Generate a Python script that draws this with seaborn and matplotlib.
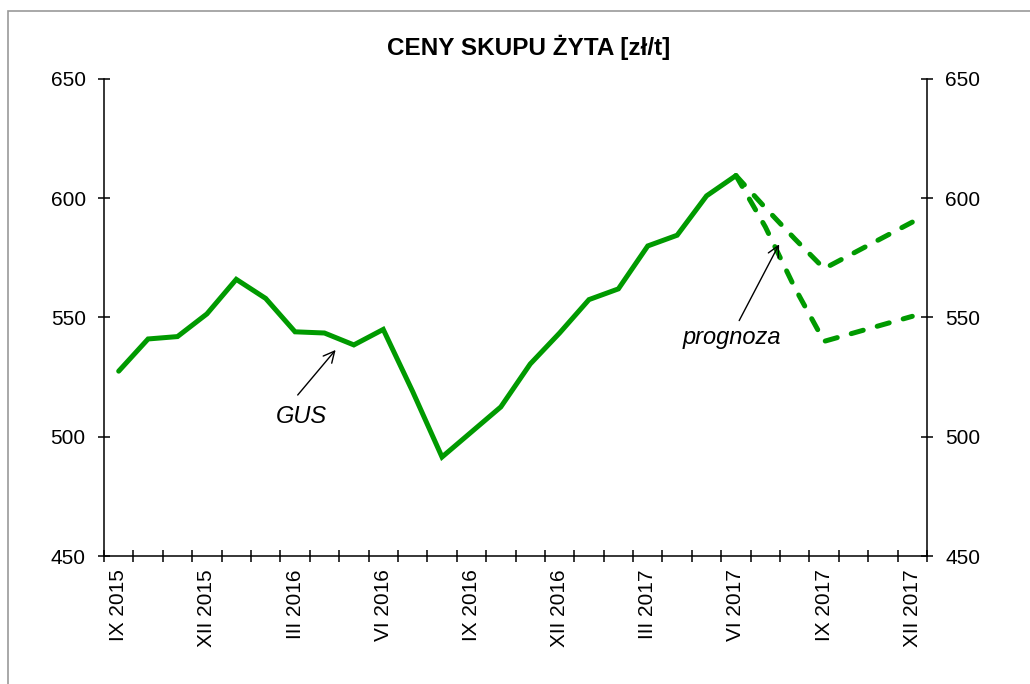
import numpy as np
import pandas as pd
import seaborn as sns
import matplotlib.pyplot as plt
from matplotlib.patches import Rectangle

# month labels (IX 2015 .. XII 2017) and values
months = ['IX 2015', 'X 2015', 'XI 2015', 'XII 2015',
          'I 2016', 'II 2016', 'III 2016', 'IV 2016', 'V 2016', 'VI 2016',
          'VII 2016', 'VIII 2016', 'IX 2016', 'X 2016', 'XI 2016', 'XII 2016',
          'I 2017', 'II 2017', 'III 2017', 'IV 2017', 'V 2017', 'VI 2017',
          'VII 2017', 'VIII 2017', 'IX 2017', 'X 2017', 'XI 2017', 'XII 2017']
gus = [527.5, 541, 542, 551.5, 566, 558, 544, 543.5, 538.5, 545,
       519, 491.5, 502, 512.5, 530.5, 543.5, 557.5, 562, 580, 584.5, 601, 609.5]
prognoza_high = [609.5, 596, 583, 570.5, 577, 583.5, 590]
prognoza_low = [609.5, 588, 562.5, 540, 543.5, 547, 550.5]
labelled = ['IX 2015', 'XII 2015', 'III 2016', 'VI 2016', 'IX 2016', 'XII 2016',
            'III 2017', 'VI 2017', 'IX 2017', 'XII 2017']

sns.set_theme(style='white')
plt.rcParams['font.family'] = ['Liberation Sans', 'DejaVu Sans']
plt.rcParams['text.color'] = 'black'
plt.rcParams['xtick.color'] = 'black'
plt.rcParams['ytick.color'] = 'black'
plt.rcParams['axes.labelcolor'] = 'black'

n_gus = len(gus)
df_gus = pd.DataFrame({'m': np.arange(n_gus), 'v': gus})
idx_f = np.arange(n_gus - 1, len(months))
df_hi = pd.DataFrame({'m': idx_f, 'v': prognoza_high})
df_lo = pd.DataFrame({'m': idx_f, 'v': prognoza_low})

fig = plt.figure(figsize=(10.3, 6.84), dpi=100)
ax = fig.add_axes([104/1030, 1-556/684, 823/1030, 477/684])

green = '#009a00'
sns.lineplot(data=df_gus, x='m', y='v', ax=ax, color=green, lw=3.6,
             solid_joinstyle='miter')
dash = (0, (2.5, 2.9))
sns.lineplot(data=df_hi, x='m', y='v', ax=ax, color=green, lw=3.6,
             linestyle=dash, dash_capstyle='round')
sns.lineplot(data=df_lo, x='m', y='v', ax=ax, color=green, lw=3.6,
             linestyle=dash, dash_capstyle='round')

ax.set_xlim(-0.5, len(months) - 0.5)
ax.set_ylim(450, 650)
ax.set_yticks([450, 500, 550, 600, 650])
ax.set_xlabel('')
ax.set_ylabel('')

# boundary ticks (no labels) and labels centred on months
ax.set_xticks(np.arange(-0.5, len(months), 1))
ax.set_xticklabels([])
pos = [months.index(m) for m in labelled]
ax.set_xticks(pos, minor=True)
ax.set_xticklabels(labelled, minor=True, rotation=90, fontsize=15)
ax.tick_params(axis='x', which='major', direction='inout', length=8.4,
               width=1.1, color='black', bottom=True)
ax.tick_params(axis='x', which='minor', length=0, pad=9.5, bottom=True)
ax.tick_params(axis='y', direction='inout', length=8.4, width=1.1, color='black',
               left=True, right=True, labelleft=True, labelright=True,
               labelsize=15, pad=9)

for s in ['left', 'right', 'bottom']:
    ax.spines[s].set_visible(True)
    ax.spines[s].set_color('black')
    ax.spines[s].set_linewidth(1.1)
ax.spines['top'].set_visible(False)
ax.grid(False)

arrow = dict(arrowstyle='->', color='black', lw=1, shrinkA=0, shrinkB=0,
             mutation_scale=20)
ax.text(6.2, 505.6, 'GUS', fontsize=17, style='italic', ha='center', va='baseline')
ax.annotate('', xy=(7.38, 536.4), xytext=(6.09, 517.5), arrowprops=arrow)
ax.text(20.86, 538.7, 'prognoza', fontsize=17, style='italic', ha='center', va='baseline')
ax.annotate('', xy=(22.47, 580.7), xytext=(21.11, 548.7), arrowprops=arrow)

fig.text(0.513, 1-47/684, 'CENY SKUPU ŻYTA [zł/t]', fontsize=17.5, fontweight='bold',
         ha='center', va='center')

fig.add_artist(Rectangle((8/1030, -0.1), 1.2, 1 - 11/684 + 0.1, transform=fig.transFigure,
                         fill=False, edgecolor='#999999', lw=1.2, clip_on=False))

fig.savefig('out.png', dpi=100)
